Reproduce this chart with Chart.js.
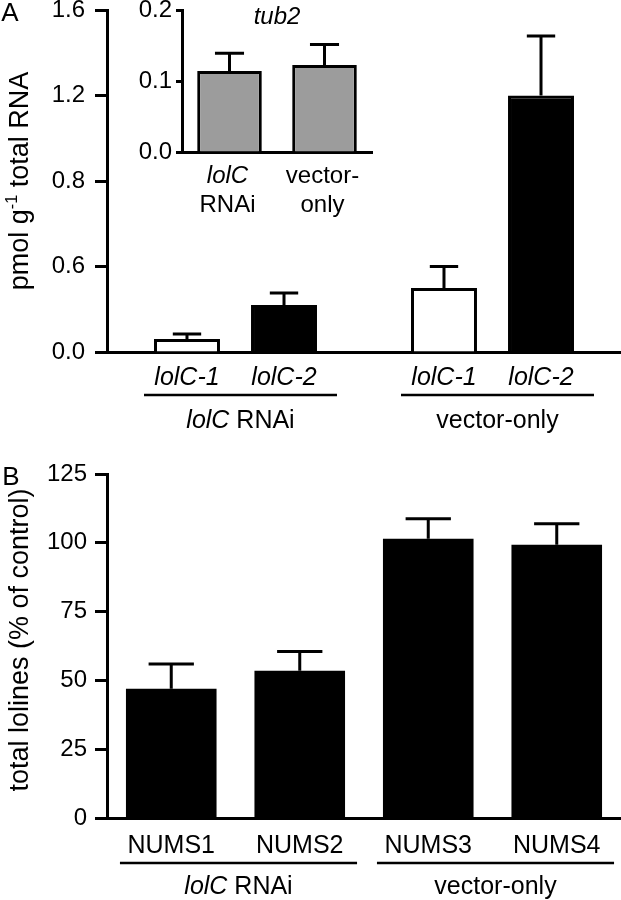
<!DOCTYPE html>
<html>
<head>
<meta charset="utf-8">
<script src="https://cdn.jsdelivr.net/npm/chart.js@4.4.0/dist/chart.umd.min.js"></script>
<style>
  html, body { margin: 0; padding: 0; background: #fff; }
  #wrap { position: relative; width: 621px; height: 900px; }
  canvas { position: absolute; left: 0; }
  #chartA { top: 0; }
  #chartInset { top: 0; }
  #chartB { top: 460px; }
</style>
</head>
<body>
<div id="wrap">
  <canvas id="chartA" width="621" height="460"></canvas>
  <canvas id="chartInset" width="621" height="240"></canvas>
  <canvas id="chartB" width="621" height="440"></canvas>
</div>
<script>
// ---------- data ----------
// panel A: lolC transcript levels
const groupsA = ['lolC RNAi', 'vector-only'];
const lolC1Mean = [0.061, 0.30];
const lolC1Err = [0.023, 0.10];
const lolC2Mean = [0.22, 1.20];
const lolC2Err = [0.056, 0.278];
const ticksA = [0, 0.4, 0.8, 1.2, 1.6];
const tickLabelsA = ['0.0', '0.6', '0.8', '1.2', '1.6'];

// inset: tub2
const insetCats = ['lolC RNAi', 'vector-only'];
const insetLines = [['lolC', 'RNAi'], ['vector-', 'only']];
const tub2Mean = [0.114, 0.1225];
const tub2Err = [0.025, 0.029];
const ticksInset = [0, 0.1, 0.2];

// panel B: total lolines
const strainsB = ['NUMS1', 'NUMS2', 'NUMS3', 'NUMS4'];
const groupOfB = ['lolC RNAi', 'lolC RNAi', 'vector-only', 'vector-only'];
const lolinesMean = [47, 53.5, 101.5, 99.3];
const lolinesErr = [9, 7, 7.2, 7.6];
const ticksB = [0, 25, 50, 75, 100, 125];

// ---------- helpers ----------
const FAMILY = "'Liberation Sans', Arial, Helvetica, sans-serif";
Chart.defaults.font.family = FAMILY;
Chart.defaults.color = '#000';

function font(size, italic) {
    return (italic ? 'italic ' : '') + size + 'px ' + FAMILY;
}

// split a label so the gene name is italic
function runsFor(text) {
    return text.split(/(lolC)/).filter(s => s.length).map(s => ({ t: s, italic: s === 'lolC' }));
}

function drawRuns(ctx, runs, cx, baseline, size) {
    let total = 0;
    runs.forEach(r => {
        ctx.font = font(r.sup ? size * 0.6 : size, r.italic);
        r.w = ctx.measureText(r.t).width;
        total += r.w;
    });
    let x = cx - total / 2;
    ctx.textAlign = 'left';
    ctx.textBaseline = 'alphabetic';
    ctx.fillStyle = '#000';
    runs.forEach(r => {
        ctx.font = font(r.sup ? size * 0.6 : size, r.italic);
        ctx.fillText(r.t, x, r.sup ? baseline - size * 0.42 : baseline);
        x += r.w;
    });
}

function drawVerticalTitle(ctx, runs, x, cy, size) {
    ctx.save();
    ctx.translate(x, cy);
    ctx.rotate(-Math.PI / 2);
    drawRuns(ctx, runs, 0, 0, size);
    ctx.restore();
}

function hline(ctx, x1, x2, y, w) {
    ctx.save();
    ctx.strokeStyle = '#000';
    ctx.lineWidth = w;
    ctx.beginPath();
    ctx.moveTo(x1, y);
    ctx.lineTo(x2, y);
    ctx.stroke();
    ctx.restore();
}

// upward error bars, dataset.errors holds the SEM
const errorBars = {
    id: 'errorBars',
    afterDatasetsDraw(chart, args, opts) {
        const ctx = chart.ctx;
        const y = chart.scales.y;
        chart.data.datasets.forEach((ds, di) => {
            const meta = chart.getDatasetMeta(di);
            meta.data.forEach((bar, i) => {
                const top = y.getPixelForValue(ds.data[i] + ds.errors[i]);
                const half = bar.width * opts.cap / 2;
                ctx.save();
                ctx.strokeStyle = '#000';
                ctx.lineWidth = 3;
                ctx.beginPath();
                ctx.moveTo(bar.x, bar.y);
                ctx.lineTo(bar.x, top);
                ctx.moveTo(bar.x - half, top);
                ctx.lineTo(bar.x + half, top);
                ctx.stroke();
                ctx.restore();
            });
        });
    }
};

// fixed geometry for the axes so panels line up
function fixY(width) {
    return function (s) {
        s.width = width;
        s.paddingTop = 0;
        s.paddingBottom = 0;
    };
}
function fixX(height) {
    return function (s) {
        s.height = height;
        s.paddingLeft = 0;
        s.paddingRight = 0;
    };
}

function yScale(min, max, ticks, labels, tickLen, pad, size) {
    return {
        min: min,
        max: max,
        afterBuildTicks: s => { s.ticks = ticks.map(v => ({ value: v })); },
        ticks: {
            font: { size: size },
            padding: pad,
            color: '#000',
            callback: (v, i) => labels ? labels[i] : String(v)
        },
        grid: {
            display: true,
            drawOnChartArea: false,
            drawTicks: true,
            tickLength: tickLen,
            tickWidth: 3,
            color: '#000'
        },
        border: { display: true, width: 3, color: '#000' }
    };
}

function xScale() {
    return {
        ticks: { display: false },
        grid: { display: false, drawTicks: false },
        border: { display: true, width: 3, color: '#000' }
    };
}

// ---------- panel A ----------
const labelsA = {
    id: 'labelsA',
    afterDraw(chart) {
        const ctx = chart.ctx;
        const metas = [chart.getDatasetMeta(0), chart.getDatasetMeta(1)];
        // per bar italic labels
        chart.data.datasets.forEach((ds, di) => {
            metas[di].data.forEach(bar => {
                drawRuns(ctx, [{ t: ds.label, italic: true }], bar.x, 385, 25);
            });
        });
        // group underline + group label
        groupsA.forEach((g, i) => {
            const first = metas[0].data[i];
            const last = metas[1].data[i];
            const x1 = first.x - first.width / 2 - 10;
            const x2 = last.x + last.width / 2 + 20;
            hline(ctx, x1, x2, 395, 2.5);
            drawRuns(ctx, runsFor(g), (x1 + x2) / 2, 428, 25);
        });
        // axis title and panel letter
        drawVerticalTitle(ctx, [
            { t: 'pmol g' }, { t: '-1', sup: true }, { t: ' total RNA' }
        ], 28, 181, 27);
        drawRuns(ctx, [{ t: 'A' }], 10, 21, 26);
    }
};

new Chart(document.getElementById('chartA'), {
    type: 'bar',
    data: {
        labels: groupsA,
        datasets: [{
            label: 'lolC-1',
            data: lolC1Mean,
            errors: lolC1Err,
            backgroundColor: '#fff',
            borderColor: '#000',
            borderWidth: 3
        }, {
            label: 'lolC-2',
            data: lolC2Mean,
            errors: lolC2Err,
            backgroundColor: '#000',
            borderColor: '#000',
            borderWidth: 3
        }]
    },
    options: {
        responsive: false,
        animation: false,
        layout: { padding: { top: 10, left: 0, right: 0, bottom: 0 } },
        datasets: { bar: { barPercentage: 0.68, categoryPercentage: 0.755 } },
        plugins: {
            legend: { display: false },
            tooltip: { enabled: false },
            errorBars: { cap: 0.43 }
        },
        scales: {
            x: Object.assign(xScale(), { afterFit: fixX(108) }),
            y: Object.assign(yScale(0, 1.6, ticksA, tickLabelsA, 12, 10, 24), { afterFit: fixY(107) })
        }
    },
    plugins: [errorBars, labelsA]
});

// ---------- inset ----------
const labelsInset = {
    id: 'labelsInset',
    afterDraw(chart) {
        const ctx = chart.ctx;
        const meta = chart.getDatasetMeta(0);
        meta.data.forEach((bar, i) => {
            const lines = insetLines[i];
            drawRuns(ctx, runsFor(lines[0]), bar.x - 2, 183, 24);
            drawRuns(ctx, runsFor(lines[1]), bar.x - 2, 212, 24);
        });
        drawRuns(ctx, [{ t: 'tub2', italic: true }], 277, 24, 24);
    }
};

new Chart(document.getElementById('chartInset'), {
    type: 'bar',
    data: {
        labels: insetCats,
        datasets: [{
            label: 'tub2',
            data: tub2Mean,
            errors: tub2Err,
            backgroundColor: '#9c9c9c',
            borderColor: '#000',
            borderWidth: 3
        }]
    },
    options: {
        responsive: false,
        animation: false,
        layout: { padding: { top: 10, left: 0, right: 249, bottom: 0 } },
        datasets: { bar: { barPercentage: 0.68, categoryPercentage: 1 } },
        plugins: {
            legend: { display: false },
            tooltip: { enabled: false },
            errorBars: { cap: 0.45 }
        },
        scales: {
            x: Object.assign(xScale(), { afterFit: fixX(88) }),
            y: Object.assign(yScale(0, 0.2, ticksInset, ['0.0', '0.1', '0.2'], 6, 4, 24), { afterFit: fixY(182) })
        }
    },
    plugins: [errorBars, labelsInset]
});

// ---------- panel B ----------
const labelsB = {
    id: 'labelsB',
    afterDraw(chart) {
        const ctx = chart.ctx;
        const meta = chart.getDatasetMeta(0);
        meta.data.forEach((bar, i) => {
            drawRuns(ctx, [{ t: strainsB[i] }], bar.x, 393, 25);
        });
        // underline each group of strains
        const groups = [...new Set(groupOfB)];
        groups.forEach(g => {
            const idx = groupOfB.map((v, i) => v === g ? i : -1).filter(i => i >= 0);
            const first = meta.data[idx[0]];
            const last = meta.data[idx[idx.length - 1]];
            const x1 = first.x - first.width / 2 - 6;
            const x2 = last.x + last.width / 2 + 12;
            hline(ctx, x1, x2, 403, 2.5);
            drawRuns(ctx, runsFor(g), (x1 + x2) / 2, 434, 25);
        });
        drawVerticalTitle(ctx, [{ t: 'total lolines (% of control)' }], 28, 180, 27);
        drawRuns(ctx, [{ t: 'B' }], 11, 25, 26);
    }
};

new Chart(document.getElementById('chartB'), {
    type: 'bar',
    data: {
        labels: strainsB,
        datasets: [{
            label: 'total lolines',
            data: lolinesMean,
            errors: lolinesErr,
            backgroundColor: '#000',
            borderColor: '#000',
            borderWidth: 0
        }]
    },
    options: {
        responsive: false,
        animation: false,
        layout: { padding: { top: 14, left: 0, right: 0, bottom: 0 } },
        datasets: { bar: { barPercentage: 0.705, categoryPercentage: 1 } },
        plugins: {
            legend: { display: false },
            tooltip: { enabled: false },
            errorBars: { cap: 0.5 }
        },
        scales: {
            x: Object.assign(xScale(), { afterFit: fixX(82) }),
            y: Object.assign(yScale(0, 125, ticksB, null, 12, 8, 24), { afterFit: fixY(107) })
        }
    },
    plugins: [errorBars, labelsB]
});
</script>
</body>
</html>
